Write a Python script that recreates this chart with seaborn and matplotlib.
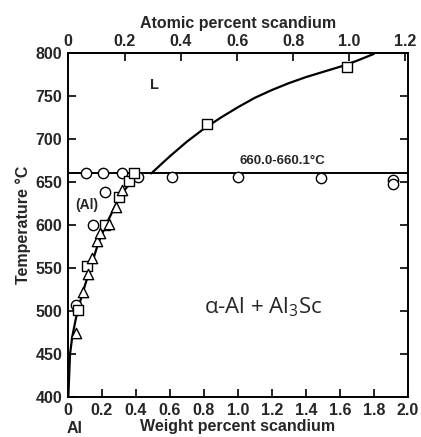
import matplotlib
matplotlib.use("Agg")
import matplotlib.pyplot as plt
import seaborn as sns
import numpy as np
import pandas as pd

sns.set_theme(style="white")
plt.rcParams['font.family'] = ['Liberation Sans', 'DejaVu Sans']
plt.rcParams['mathtext.default'] = 'regular'

# ---- data (wt% Sc, temperature °C) ----
circle_wt = [0.106, 0.206, 0.32, 0.41, 0.61, 1.0, 1.49, 1.91, 1.91, 0.22, 0.15, 0.05]
circle_T = [660, 660, 660, 656, 656, 656, 655, 652, 648, 638, 600, 507]

square_wt = [0.06, 0.11, 0.22, 0.30, 0.36, 0.39, 0.82, 1.64]
square_T = [501, 552, 600, 632, 651, 661, 717, 784]

tri_wt = [0.05, 0.09, 0.12, 0.14, 0.17, 0.19, 0.24, 0.28, 0.32]
tri_T = [475, 522, 543, 562, 581, 591, 601, 621, 641]

solvus_wt = [0.002, 0.006, 0.012, 0.025, 0.045, 0.07, 0.10, 0.14, 0.18, 0.23, 0.28, 0.33, 0.38, 0.43]
solvus_T = [400, 420, 450, 470, 490, 510, 530, 555, 580, 603, 623, 640, 652, 660]

liquidus_wt = [0.49, 0.55, 0.60, 0.70, 0.80, 0.90, 1.00, 1.10, 1.20, 1.30, 1.40, 1.50, 1.60, 1.70, 1.80]
liquidus_T = [660, 671, 680, 697, 712, 725, 737, 748, 757, 765, 772, 778, 784, 791, 799]

eutectic_wt = [0.0, 2.0]
eutectic_T = [660, 660]

xticks = [0, 0.2, 0.4, 0.6, 0.8, 1.0, 1.2, 1.4, 1.6, 1.8, 2.0]
xticklabels = ['0', '0.2', '0.4', '0.6', '0.8', '1.0', '1.2', '1.4', '1.6', '1.8', '2.0']
yticks = [400, 450, 500, 550, 600, 650, 700, 750, 800]
top_ticks = [0, 0.2, 0.4, 0.6, 0.8, 1.0, 1.2]
top_labels = ['0', '0.2', '0.4', '0.6', '0.8', '1.0', '1.2']

fig = plt.figure(figsize=(4.21, 4.37), dpi=100)
ax = fig.add_axes([0.1615, 0.0915, 0.8075, 0.7872])

# curves
sns.lineplot(x=solvus_wt, y=solvus_T, ax=ax, color='black', lw=1.6, sort=False, estimator=None)
sns.lineplot(x=liquidus_wt, y=liquidus_T, ax=ax, color='black', lw=1.6, sort=False, estimator=None)
sns.lineplot(x=eutectic_wt, y=eutectic_T, ax=ax, color='black', lw=1.4, sort=False, estimator=None)

# markers
sns.scatterplot(x=circle_wt, y=circle_T, ax=ax, marker='o', s=55, facecolor='white',
                edgecolor='black', linewidth=1.0, zorder=5)
sns.scatterplot(x=square_wt, y=square_T, ax=ax, marker='s', s=60, facecolor='white',
                edgecolor='black', linewidth=1.0, zorder=5)
sns.scatterplot(x=tri_wt, y=tri_T, ax=ax, marker='^', s=55, facecolor='white',
                edgecolor='black', linewidth=1.0, zorder=5)

ax.set_xlim(0, 2.0)
ax.set_ylim(400, 800)
ax.set_xticks(xticks)
ax.set_xticklabels(xticklabels, fontweight='bold', fontsize=11.5)
ax.set_yticks(yticks)
ax.set_yticklabels([str(v) for v in yticks], fontweight='bold', fontsize=11.5)
ax.tick_params(axis='both', direction='in', length=6, width=1.2, color='black',
               left=True, right=True, bottom=True, top=False, pad=4)
ax.tick_params(axis='y', labelright=False, pad=4)
for sp in ax.spines.values():
    sp.set_color('black')
    sp.set_linewidth(1.4)

ax.set_xlabel('Weight percent scandium', fontweight='bold', fontsize=11.5, labelpad=1)
ax.set_ylabel('Temperature °C', fontweight='bold', fontsize=11.5, labelpad=3)


def wt2at(w):
    w = np.asarray(w, dtype=float)
    a = w / 44.956
    b = (100 - w) / 26.982
    return a / (a + b) * 100


def at2wt(a):
    a = np.asarray(a, dtype=float)
    m = a * 44.956
    n = (100 - a) * 26.982
    return m / (m + n) * 100


sec = ax.secondary_xaxis('top', functions=(wt2at, at2wt))
sec.set_xticks(top_ticks)
sec.set_xticklabels(top_labels, fontweight='bold', fontsize=11.5)
sec.tick_params(direction='in', length=6, width=1.2, color='black', pad=3)
sec.set_xlabel('Atomic percent scandium', fontweight='bold', fontsize=11.5, labelpad=4)
sec.spines['top'].set_linewidth(1.4)

# annotations
ax.text(0.51, 763, 'L', fontweight='bold', fontsize=10.5, ha='center', va='center')
ax.text(0.11, 623, '(Al)', fontweight='bold', fontsize=10, ha='center', va='center')
ax.text(1.26, 675, '660.0-660.1°C', fontweight='bold', fontsize=9.5, ha='center', va='center')
ax.text(1.15, 504, 'α-Al + Al$_3$Sc', fontsize=16, ha='center', va='center',
        family=['Open Sans', 'DejaVu Sans'])
fig.text(0.178, 0.002, 'Al', fontweight='bold', fontsize=11.5, ha='center', va='bottom')

fig.savefig('out.png', dpi=100)
